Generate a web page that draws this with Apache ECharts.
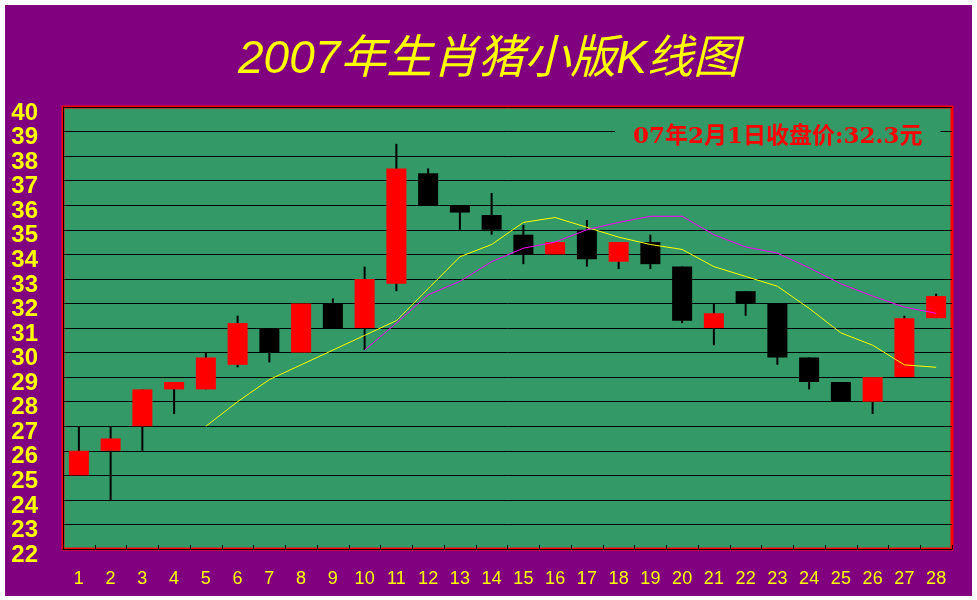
<!DOCTYPE html>
<html>
<head>
<meta charset="utf-8">
<script src="https://cdn.jsdelivr.net/npm/echarts@6/dist/echarts.min.js"></script>
<style>
html,body{margin:0;padding:0;background:#ffffff;}
#wrap{position:relative;width:977px;height:600px;background:#ffffff;}
#chart{position:absolute;left:5px;top:5px;width:967px;height:591px;}
</style>
</head>
<body>
<div id="wrap"><div id="chart"></div></div>
<script>
var categories = ['1','2','3','4','5','6','7','8','9','10','11','12','13','14','15','16','17','18','19','20','21','22','23','24','25','26','27','28'];
var openVals  = [26, 26, 27, 28.5, 28.5, 29.5, 31, 30, 32, 31, 32.8, 37.3, 36, 35.6, 34.8, 34, 35, 33.7, 34.5, 33.5, 31, 32.5, 32, 29.8, 28.8, 28, 29, 31.4];
var closeVals = [25, 26.5, 28.5, 28.8, 29.8, 31.2, 30, 32, 31, 33, 37.5, 36, 35.7, 35, 34, 34.5, 33.8, 34.5, 33.6, 31.3, 31.6, 32, 29.8, 28.8, 28, 29, 31.4, 32.3];
var lowVals   = [25, 24, 26, 27.5, 28.5, 29.4, 29.6, 30, 31, 30.1, 32.5, 36, 35, 34.8, 33.6, 34, 33.5, 33.4, 33.4, 31.2, 30.3, 31.5, 29.5, 28.5, 28, 27.5, 29, 31.4];
var highVals  = [27, 27, 28.5, 28.8, 30, 31.5, 31, 32, 32.2, 33.5, 38.5, 37.5, 36, 36.5, 35.2, 34.5, 35.4, 34.5, 34.8, 33.5, 32, 32.5, 32, 29.8, 28.8, 29, 31.5, 32.4];
// 1 = red body, 0 = black body
var upFlags   = [1,1,1,1,1,1,0,1,0,1,1,0,0,0,0,1,0,1,0,0,1,0,0,0,0,1,1,1];
var ma5  = ['-','-','-','-', 27, 28, 28.9, 29.5, 30.1, 30.7, 31.3, 32.6, 33.9, 34.4, 35.3, 35.5, 35.1, 34.7, 34.4, 34.2, 33.5, 33.1, 32.7, 31.8, 30.8, 30.3, 29.5, 29.4];
var ma10 = ['-','-','-','-','-','-','-','-','-', 30.1, 31.2, 32.35, 32.9, 33.7, 34.25, 34.5, 35.0, 35.3, 35.55, 35.55, 34.8, 34.3, 34.05, 33.45, 32.8, 32.3, 31.85, 31.6];
var yTicks = [22,23,24,25,26,27,28,29,30,31,32,33,34,35,36,37,38,39,40];

var kData = categories.map(function(c, i){
  var o, cl;
  if (upFlags[i]) { o = Math.min(openVals[i], closeVals[i]); cl = Math.max(openVals[i], closeVals[i]); }
  else { o = Math.max(openVals[i], closeVals[i]); cl = Math.min(openVals[i], closeVals[i]); }
  return [i, o, cl, lowVals[i], highVals[i], upFlags[i]];
});

var chart = echarts.init(document.getElementById('chart'), null, {renderer:'canvas'});
chart.setOption({
  backgroundColor: '#800080',
  animation: false,
  title: [{
    text: '2007年生肖猪小版K线图',
    left: 'center',
    top: 27,
    textStyle: {color:'#ffff00', fontSize:46, fontStyle:'italic', fontWeight:'normal', fontFamily:'"Liberation Sans", "Noto Sans CJK SC", sans-serif'}
  },{
    text: '07年2月1日收盘价:32.3元',
    left: 610,
    top: 115,
    backgroundColor: '#339966',
    padding: [6, 18, 6, 18],
    textStyle: {color:'#ff0000', fontSize:23, fontWeight:'bold', fontFamily:'"DejaVu Serif", "Noto Sans CJK SC", serif'}
  }],
  grid: {
    left: 58, top: 102, width: 889, height: 442,
    show: true, backgroundColor: '#339966', borderColor: '#ff0000', borderWidth: 3
  },
  xAxis: {
    type: 'category',
    data: categories,
    boundaryGap: true,
    axisLine: {show: true, lineStyle: {color:'#000000', width:1}},
    axisTick: {show: true, inside: true, length: 4, lineStyle: {color:'#000000'}},
    axisLabel: {color:'#ffff00', fontSize:18, margin:21, fontFamily:'"Liberation Sans", sans-serif'},
    splitLine: {show:false}
  },
  yAxis: {
    type: 'value',
    min: 22, max: 40, interval: 1,
    axisLine: {show: true, lineStyle: {color:'#000000', width:1}},
    axisTick: {show:false},
    axisLabel: {color:'#ffff00', fontSize:24, margin:25, fontFamily:'"Liberation Sans", sans-serif',
      formatter: function(v){ return yTicks.indexOf(v) >= 0 ? '{v|' + v + '}' : ''; },
      rich: {v: {color:'#ffff00', fontSize:24, fontWeight:'bold', fontFamily:'"Liberation Sans", sans-serif', padding:[12,0,0,0]}}
    },
    splitLine: {show:true, lineStyle:{color:'#000000', width:1}}
  },
  series: [{
    type: 'custom',
    data: kData,
    encode: {x: 0, y: [1,2,3,4]},
    renderItem: function(params, api){
      var x = api.value(0);
      var o = api.value(1), c = api.value(2), l = api.value(3), h = api.value(4), up = api.value(5);
      var pO = api.coord([x, o]), pC = api.coord([x, c]), pL = api.coord([x, l]), pH = api.coord([x, h]);
      var w = 20;
      var top = Math.min(pO[1], pC[1]);
      var ht = Math.max(Math.abs(pO[1] - pC[1]), 1);
      return {
        type: 'group',
        children: [{
          type: 'line',
          shape: {x1: pO[0], y1: pH[1], x2: pO[0], y2: pL[1]},
          style: {stroke: '#000000', lineWidth: 2}
        },{
          type: 'rect',
          shape: {x: pO[0] - w/2, y: top, width: w, height: ht},
          style: {fill: up ? '#ff0000' : '#000000'}
        }]
      };
    }
  },{
    type: 'line', data: ma5, showSymbol: false, symbol:'none',
    lineStyle: {color:'#ffff00', width:1}, z: 3
  },{
    type: 'line', data: ma10, showSymbol: false, symbol:'none',
    lineStyle: {color:'#ff00ff', width:1}, z: 3
  }]
});
</script>
</body>
</html>
